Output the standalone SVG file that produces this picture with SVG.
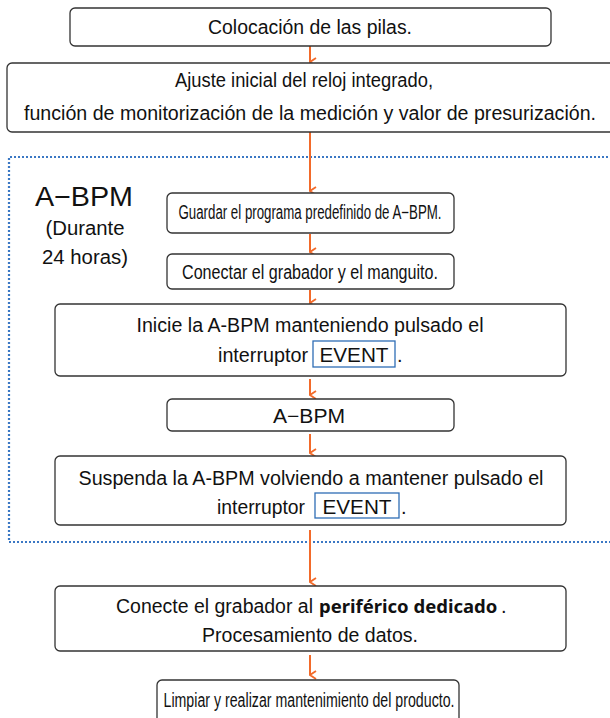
<svg xmlns="http://www.w3.org/2000/svg" width="610" height="718" viewBox="0 0 610 718">
<defs>
<style>
.box{fill:#fff;stroke:#333;stroke-width:1.3}
.t{font-family:"Liberation Sans",Arial,sans-serif;font-size:20px;fill:#111;text-anchor:middle}
.s{text-anchor:start}
.ev{fill:none;stroke:#2f6db5;stroke-width:1.3}
.con{stroke:#f26a2a;stroke-width:2;fill:none}
.b{font-family:"Noto Sans","Open Sans",sans-serif;font-weight:bold;font-size:18.5px}
</style>
<marker id="ah" viewBox="0 0 10 10" refX="5" refY="9" markerWidth="10" markerHeight="10" markerUnits="userSpaceOnUse" orient="auto-start-reverse">
<path d="M1,3 L5,9 L9,3" fill="none" stroke="#f26a2a" stroke-width="1.8"/>
</marker>
</defs>
<rect x="0" y="0" width="610" height="718" fill="#fff"/>
<g id="group-abpm">
<path d="M612,157 H9 V542 H612" fill="none" stroke="#3b78c4" stroke-width="2.2" stroke-dasharray="2 2"/>
<text class="t" x="84" y="206" style="font-size:28px" textLength="98" lengthAdjust="spacingAndGlyphs">A−BPM</text>
<text class="t" x="85" y="235" textLength="79" lengthAdjust="spacingAndGlyphs">(Durante</text>
<text class="t" x="85" y="264" textLength="86" lengthAdjust="spacingAndGlyphs">24 horas)</text>
</g>
<g id="connectors">
<line class="con" x1="310" y1="46" x2="310" y2="62" marker-end="url(#ah)"/>
<line class="con" x1="310" y1="132" x2="310" y2="191" marker-end="url(#ah)"/>
<line class="con" x1="310" y1="234" x2="310" y2="252" marker-end="url(#ah)"/>
<line class="con" x1="310" y1="290" x2="310" y2="303" marker-end="url(#ah)"/>
<line class="con" x1="310" y1="379" x2="310" y2="395" marker-end="url(#ah)"/>
<line class="con" x1="310" y1="434" x2="310" y2="453" marker-end="url(#ah)"/>
<line class="con" x1="310" y1="530" x2="310" y2="582" marker-end="url(#ah)"/>
<line class="con" x1="310" y1="655" x2="310" y2="675" marker-end="url(#ah)"/>
</g>
<g id="n1">
<rect class="box" x="70" y="8" width="481" height="38" rx="5"/>
<text class="t" x="310" y="34" textLength="204" lengthAdjust="spacingAndGlyphs">Colocación de las pilas.</text>
</g>
<g id="n2">
<rect class="box" x="7" y="63" width="620" height="69" rx="5"/>
<text class="t" x="304" y="87" textLength="258" lengthAdjust="spacingAndGlyphs">Ajuste inicial del reloj integrado,</text>
<text class="t" x="310" y="120" textLength="572" lengthAdjust="spacingAndGlyphs">función de monitorización de la medición y valor de presurización.</text>
</g>
<g id="n3">
<rect class="box" x="167" y="193" width="287" height="40" rx="5"/>
<text class="t" x="310" y="219" style="font-size:19.5px" textLength="263" lengthAdjust="spacingAndGlyphs">Guardar el programa predefinido de A−BPM.</text>
</g>
<g id="n4">
<rect class="box" x="167" y="254" width="287" height="35" rx="5"/>
<text class="t" x="310" y="279" textLength="256" lengthAdjust="spacingAndGlyphs">Conectar el grabador y el manguito.</text>
</g>
<g id="n5">
<rect class="box" x="55" y="304" width="511" height="72" rx="5"/>
<text class="t" x="310" y="332" textLength="347" lengthAdjust="spacingAndGlyphs">Inicie la A-BPM manteniendo pulsado el</text>
<text class="t s" x="218" y="362" textLength="90" lengthAdjust="spacingAndGlyphs">interruptor</text>
<rect class="ev" x="313" y="341" width="82" height="26"/>
<text class="t" x="354" y="362" textLength="69" lengthAdjust="spacingAndGlyphs">EVENT</text>
<text class="t s" x="397" y="362">.</text>
</g>
<g id="n6">
<rect class="box" x="167" y="399" width="287" height="32" rx="5"/>
<text class="t" x="309" y="423" textLength="72" lengthAdjust="spacingAndGlyphs">A−BPM</text>
</g>
<g id="n7">
<rect class="box" x="55" y="456" width="511" height="69" rx="5"/>
<text class="t" x="311" y="485" textLength="465" lengthAdjust="spacingAndGlyphs">Suspenda la A-BPM volviendo a mantener pulsado el</text>
<text class="t s" x="217" y="514" textLength="88" lengthAdjust="spacingAndGlyphs">interruptor</text>
<rect class="ev" x="315" y="493" width="84" height="25"/>
<text class="t" x="357" y="514" textLength="69" lengthAdjust="spacingAndGlyphs">EVENT</text>
<text class="t s" x="401" y="514">.</text>
</g>
<g id="n8">
<rect class="box" x="55" y="586" width="511" height="65" rx="5"/>
<text class="t s" x="116" y="613" textLength="197" lengthAdjust="spacingAndGlyphs">Conecte el grabador al</text>
<text class="t s b" x="319" y="613">periférico dedicado</text>
<text class="t s" x="501" y="613">.</text>
<text class="t" x="310" y="642" textLength="216" lengthAdjust="spacingAndGlyphs">Procesamiento de datos.</text>
</g>
<g id="n9">
<rect class="box" x="157" y="680" width="302" height="50" rx="5"/>
<text class="t" x="309" y="707" style="font-size:20px" textLength="291" lengthAdjust="spacingAndGlyphs">Limpiar y realizar mantenimiento del producto.</text>
</g>
</svg>
